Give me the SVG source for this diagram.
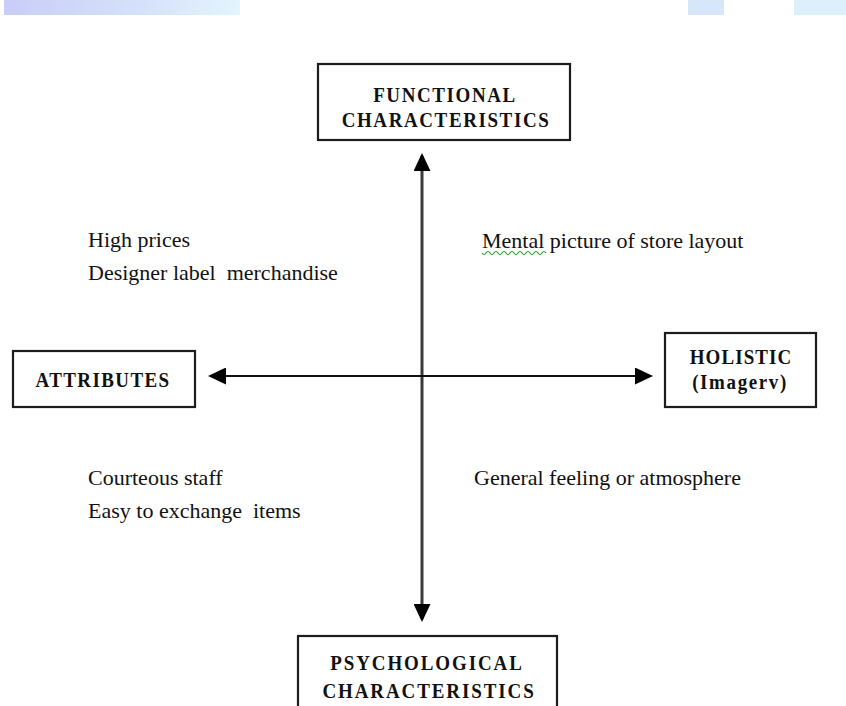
<svg xmlns="http://www.w3.org/2000/svg" width="846" height="706" viewBox="0 0 846 706">
  <style>
    .box { fill: #ffffff; stroke: #1c1c1c; stroke-width: 2.2; }
    .title { font-family: "Liberation Serif", "Times New Roman", serif; font-weight: bold; font-size: 19px; fill: #111111; text-anchor: middle; letter-spacing: 1.6px; }
    .label { font-family: "Liberation Serif", "Times New Roman", serif; font-size: 22px; fill: #111111; }
    .hline { stroke: #111111; stroke-width: 2; fill: none; }
    .vline { stroke: #3a3a3a; stroke-width: 3; fill: none; }
  </style>
  <defs>
    <marker id="head" viewBox="0 0 18 17" refX="15" refY="8.5" markerWidth="18" markerHeight="17" markerUnits="userSpaceOnUse" orient="auto-start-reverse">
      <path d="M0,0 L18,8.5 L0,17 Z" fill="#000000"/>
    </marker>
    <linearGradient id="band" x1="0" y1="0" x2="1" y2="0">
      <stop offset="0" stop-color="#c9cdf7"/>
      <stop offset="0.6" stop-color="#d6e2fa"/>
      <stop offset="1" stop-color="#e4f4fd"/>
    </linearGradient>
  </defs>

  <rect width="846" height="706" fill="#ffffff"/>

  <!-- top decorative bands -->
  <rect x="4" y="0" width="236" height="15" fill="url(#band)"/>
  <rect x="688" y="0" width="36" height="15" fill="#d8e6fa"/>
  <rect x="794" y="0" width="52" height="15" fill="#dcf0fb"/>

  <g id="connectors">
    <line class="vline" x1="422" y1="156" x2="422" y2="619" marker-start="url(#head)" marker-end="url(#head)"/>
    <line class="hline" x1="211" y1="376" x2="650" y2="376" marker-start="url(#head)" marker-end="url(#head)"/>
  </g>

  <g id="functional">
    <rect class="box" x="318" y="64" width="252" height="76"/>
    <text class="title" transform="translate(445,102) scale(1,1.15)">FUNCTIONAL</text>
    <text class="title" transform="translate(446,127) scale(1,1.15)">CHARACTERISTICS</text>
  </g>

  <g id="attributes">
    <rect class="box" x="13" y="351" width="182" height="56"/>
    <text class="title" transform="translate(103,387) scale(1,1.15)" style="letter-spacing:1.4px">ATTRIBUTES</text>
  </g>

  <g id="holistic">
    <rect class="box" x="665" y="333" width="151" height="74"/>
    <text class="title" transform="translate(741,364) scale(1,1.15)" style="letter-spacing:1.1px">HOLISTIC</text>
    <text class="title" transform="translate(740,389) scale(1,1.15)">(Imagerv)</text>
  </g>

  <g id="psychological">
    <rect class="box" x="298" y="636" width="259" height="80"/>
    <text class="title" transform="translate(427,670) scale(1,1.15)" style="letter-spacing:1.9px">PSYCHOLOGICAL</text>
    <text class="title" transform="translate(429,698) scale(1,1.15)" style="letter-spacing:1.9px">CHARACTERISTICS</text>
  </g>

  <g id="labels">
    <text class="label" x="88" y="247">High prices</text>
    <text class="label" x="88" y="280" xml:space="preserve">Designer label  merchandise</text>
    <text class="label" x="482" y="248">Mental picture of store layout</text>
    <path d="M482,253 q2,3 4,0 t4,0 t4,0 t4,0 t4,0 t4,0 t4,0 t4,0 t4,0 t4,0 t4,0 t4,0 t4,0 t4,0 t4,0 t4,0" fill="none" stroke="#22a022" stroke-width="1.2"/>
    <text class="label" x="88" y="485">Courteous staff</text>
    <text class="label" x="88" y="518" xml:space="preserve">Easy to exchange  items</text>
    <text class="label" x="474" y="485">General feeling or atmosphere</text>
  </g>
</svg>
